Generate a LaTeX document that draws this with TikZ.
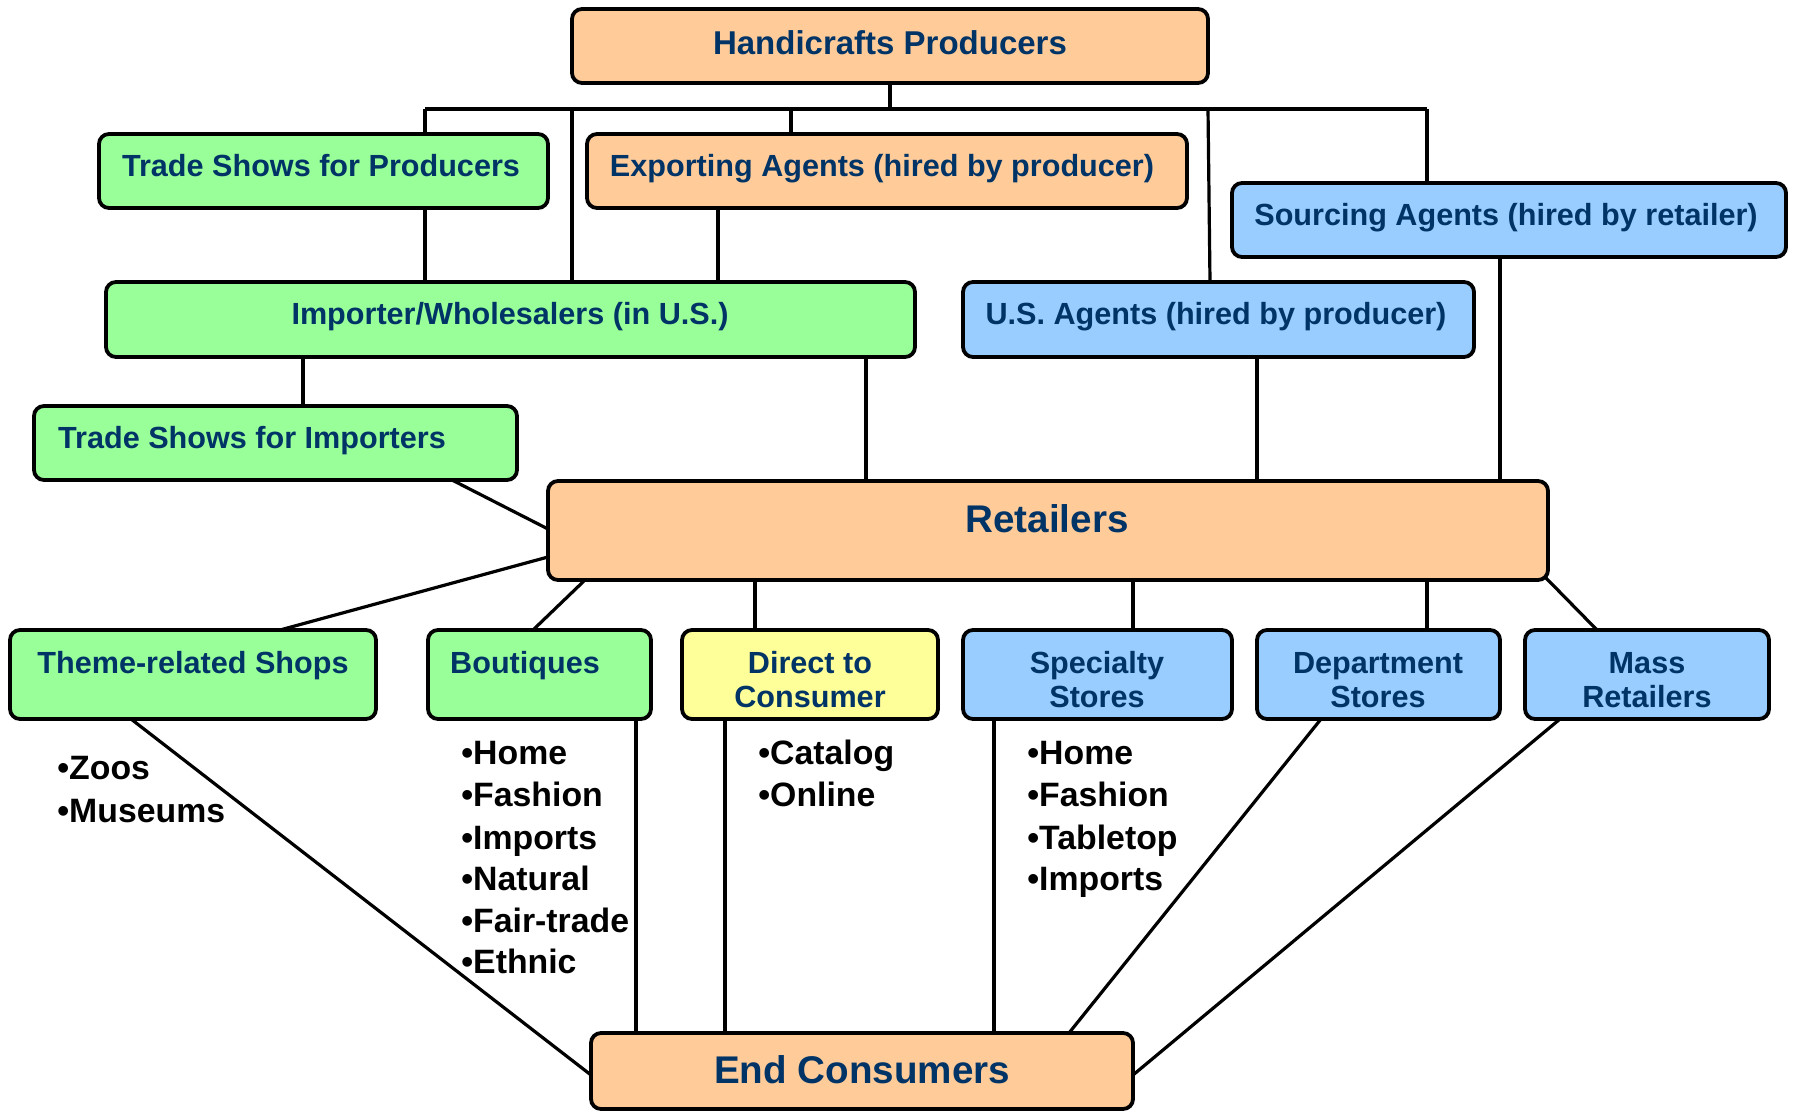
\documentclass[tikz,border=0pt]{standalone}
\usepackage{fontspec}
\setmainfont{Liberation Sans}
\definecolor{navy}{HTML}{003366}
\definecolor{org}{HTML}{FFCC99}
\definecolor{grn}{HTML}{99FF99}
\definecolor{blu}{HTML}{99CCFF}
\definecolor{yel}{HTML}{FFFF99}
\newcommand\mkbox[6]{\node[box,fill=#6,minimum width={(#4-#2)*0.5pt},minimum height={(#5-#3)*0.5pt}] (#1) at (#2,#3) {};}
\begin{document}
\begin{tikzpicture}[x=0.5pt,y=-0.5pt,
  box/.style={draw=black,line width=1.9pt,rounded corners=5pt,inner sep=0pt,outer sep=0pt,anchor=north west},
  lab/.style={inner sep=0pt,anchor=base,text=navy,font=\bfseries\fontsize{15.3}{17}\selectfont},
  bul/.style={inner sep=0pt,anchor=base west,text=black,font=\bfseries\fontsize{16.9}{18}\selectfont},
  conn/.style={draw=black,line width=1.6pt}]
\useasboundingbox (0,0) rectangle (1793,1112);
% connector coordinates
\coordinate (bus0) at (890,109);
\coordinate (busA) at (425,109);
\coordinate (busB) at (572,109);
\coordinate (busC) at (791,109);
\coordinate (busD) at (1208,109);
\coordinate (busE) at (1427,109);
\coordinate (xD2) at (1210,0);
\coordinate (x718) at (718,0);
\coordinate (x303) at (303,0);
\coordinate (x866) at (866,0);
\coordinate (x1257) at (1257,0);
\coordinate (x1500) at (1500,0);
\coordinate (x452) at (452,0);
\coordinate (y529) at (0,529);
\coordinate (y557) at (0,557);
\coordinate (x280) at (280,0);
\coordinate (x585) at (585,0);
\coordinate (x533) at (533,0);
\coordinate (x755) at (755,0);
\coordinate (x1133) at (1133,0);
\coordinate (x1427) at (1427,0);
\coordinate (x1597) at (1597,0);
\coordinate (x131) at (131,0);
\coordinate (y1075) at (0,1075);
\coordinate (x636) at (636,0);
\coordinate (x725) at (725,0);
\coordinate (x994) at (994,0);
\coordinate (x1321) at (1321,0);
\coordinate (x1069) at (1069,0);
\coordinate (x1560) at (1560,0);
% boxes
\mkbox{hp}{572}{9}{1208}{83}{org}
\mkbox{tsp}{99}{134}{548}{208}{grn}
\mkbox{exa}{587}{134}{1187}{208}{org}
\mkbox{sa}{1232}{183}{1786}{257}{blu}
\mkbox{imp}{106}{282}{915}{357}{grn}
\mkbox{usa}{963}{282}{1474}{357}{blu}
\mkbox{tsi}{34}{406}{517}{480}{grn}
\mkbox{rt}{548}{481}{1548}{580}{org}
\mkbox{th}{10}{630}{376}{719}{grn}
\mkbox{bq}{428}{630}{651}{719}{grn}
\mkbox{dc}{682}{630}{938}{719}{yel}
\mkbox{ss}{963}{630}{1232}{719}{blu}
\mkbox{ds}{1257}{630}{1500}{719}{blu}
\mkbox{mr}{1525}{630}{1769}{719}{blu}
\mkbox{ec}{591}{1033}{1133}{1109}{org}
% labels
\node[lab,font=\bfseries\fontsize{16.5}{18}\selectfont] (lhp) at (890,55) {Handicrafts Producers};
\node[lab] (ltsp) at (321,177) {Trade Shows for Producers};
\node[lab] (lexa) at (882,177) {Exporting Agents (hired by producer)};
\node[lab] (lsa) at (1506,226) {Sourcing Agents (hired by retailer)};
\node[lab] (limp) at (510,325) {Importer/Wholesalers (in U.S.)};
\node[lab] (lusa) at (1216,325) {U.S. Agents (hired by producer)};
\node[lab] (ltsi) at (252,449) {Trade Shows for Importers};
\node[lab,font=\bfseries\fontsize{19.3}{21}\selectfont] (lrt) at (1047,532) {Retailers};
\node[lab] (lth) at (193,673) {Theme-related Shops};
\node[lab] (lbq) at (525,673) {Boutiques};
\node[lab] (ldc1) at (810,673) {Direct to};
\node[lab] (ldc2) at (810,707) {Consumer};
\node[lab] (lss1) at (1097,673) {Specialty};
\node[lab] (lss2) at (1097,707) {Stores};
\node[lab] (lds1) at (1378,673) {Department};
\node[lab] (lds2) at (1378,707) {Stores};
\node[lab] (lmr1) at (1647,673) {Mass};
\node[lab] (lmr2) at (1647,707) {Retailers};
\node[lab,font=\bfseries\fontsize{19.3}{21}\selectfont] (lec) at (862,1083) {End Consumers};
% bullets
\node[bul] (t1) at (57,779) {•Zoos};
\node[bul] (t2) at (57,822) {•Museums};
\node[bul] (b1) at (461,764) {•Home};
\node[bul] (b2) at (461,806) {•Fashion};
\node[bul] (b3) at (461,849) {•Imports};
\node[bul] (b4) at (461,890) {•Natural};
\node[bul] (b5) at (461,932) {•Fair-trade};
\node[bul] (b6) at (461,973) {•Ethnic};
\node[bul] (d1) at (758,764) {•Catalog};
\node[bul] (d2) at (758,806) {•Online};
\node[bul] (s1) at (1027,764) {•Home};
\node[bul] (s2) at (1027,806) {•Fashion};
\node[bul] (s3) at (1027,849) {•Tabletop};
\node[bul] (s4) at (1027,890) {•Imports};
% connectors
\draw[conn] (hp.south -| bus0) -- (bus0);
\draw[conn] (busA) -- (busE);
\draw[conn] (busA) -- (tsp.north -| busA);
\draw[conn] (busB) -- (imp.north -| busB);
\draw[conn] (busC) -- (exa.north -| busC);
\draw[conn] (busD) -- (usa.north -| xD2);
\draw[conn] (busE) -- (sa.north -| busE);
\draw[conn] (tsp.south -| busA) -- (imp.north -| busA);
\draw[conn] (exa.south -| x718) -- (imp.north -| x718);
\draw[conn] (imp.south -| x303) -- (tsi.north -| x303);
\draw[conn] (imp.south -| x866) -- (rt.north -| x866);
\draw[conn] (usa.south -| x1257) -- (rt.north -| x1257);
\draw[conn] (sa.south -| x1500) -- (rt.north -| x1500);
\draw[conn] (tsi.south -| x452) -- (rt.west |- y529);
\draw[conn] (rt.west |- y557) -- (th.north -| x280);
\draw[conn] (rt.south -| x585) -- (bq.north -| x533);
\draw[conn] (rt.south -| x755) -- (dc.north -| x755);
\draw[conn] (rt.south -| x1133) -- (ss.north -| x1133);
\draw[conn] (rt.south -| x1427) -- (ds.north -| x1427);
\draw[conn] ([shift={(-3,-3)}]rt.south east) -- (mr.north -| x1597);
\draw[conn] (th.south -| x131) -- (ec.west |- y1075);
\draw[conn] (bq.south -| x636) -- (ec.north -| x636);
\draw[conn] (dc.south -| x725) -- (ec.north -| x725);
\draw[conn] (ss.south -| x994) -- (ec.north -| x994);
\draw[conn] (ds.south -| x1321) -- (ec.north -| x1069);
\draw[conn] (mr.south -| x1560) -- (ec.east |- y1075);
\end{tikzpicture}
\end{document}
